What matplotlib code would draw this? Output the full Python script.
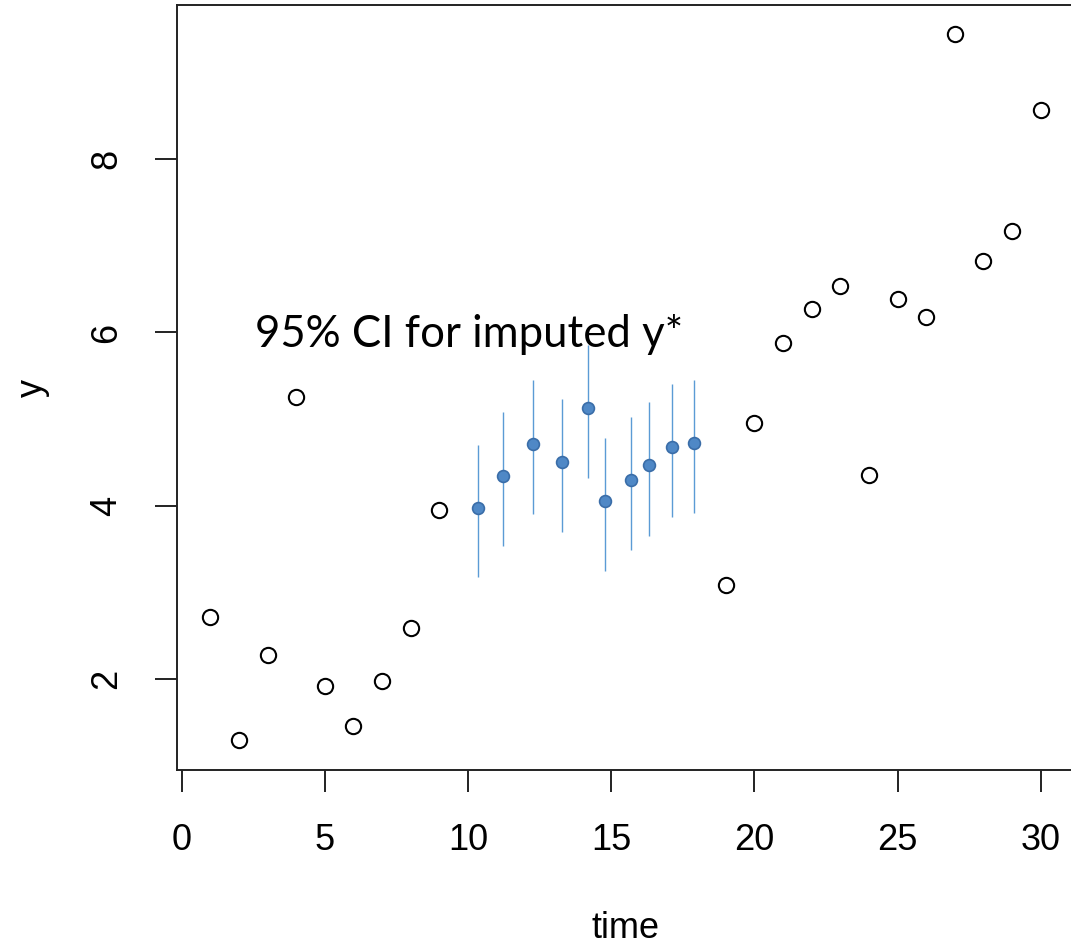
import matplotlib
matplotlib.use("Agg")
import matplotlib.pyplot as plt
import numpy as np

# observed data
obs_time = [1, 2, 3, 4, 5, 6, 7, 8, 9, 19, 20, 21, 22, 23, 24, 25, 26, 27, 28, 29, 30]
obs_y = [2.72, 1.30, 2.28, 5.26, 1.92, 1.46, 1.98, 2.59, 3.95, 3.09, 4.96, 5.88,
         6.27, 6.54, 4.36, 6.39, 6.18, 9.44, 6.82, 7.17, 8.57]

# imputed values with 95% CI
imp_time = [10.36, 11.23, 12.28, 13.29, 14.20, 14.79, 15.70, 16.32, 17.13, 17.89]
imp_y = [3.97, 4.34, 4.71, 4.51, 5.13, 4.06, 4.30, 4.47, 4.68, 4.73]
imp_lo = [3.18, 3.54, 3.91, 3.70, 4.32, 3.25, 3.49, 3.65, 3.87, 3.92]
imp_hi = [4.70, 5.08, 5.45, 5.23, 5.85, 4.78, 5.03, 5.20, 5.41, 5.45]

x_ticks = [0, 5, 10, 15, 20, 25, 30]
y_ticks = [2, 4, 6, 8]

plt.rcParams['font.family'] = ['Liberation Sans', 'DejaVu Sans']

fig = plt.figure(figsize=(10.71, 9.47), dpi=100)
ax = fig.add_axes([177/1071, 1 - 770/947, (1074 - 177)/1071, (770 - 5)/947])

ax.vlines(imp_time, imp_lo, imp_hi, color='#5B9BD5', lw=1.0, zorder=2)
ax.plot(imp_time, imp_y, 'o', ms=8.5, mfc='#4F88C6', mec='#3A6DA8', mew=1.2, zorder=3)
ax.plot(obs_time, obs_y, 'o', ms=11, mfc='white', mec='black', mew=1.5, zorder=3)

ax.set_xlim(-0.16, 31.16)
ax.set_ylim(0.95, 9.78)
ax.set_xticks(x_ticks)
ax.set_yticks(y_ticks)
ax.tick_params(axis='both', length=16, width=1.4, labelsize=26, pad=22, color='#222222')
for lab in ax.get_yticklabels():
    lab.set_rotation(90)
    lab.set_va('center')
for s in ax.spines.values():
    s.set_linewidth(1.4)
    s.set_color('#222222')

ax.set_xlabel('time', fontsize=26, labelpad=38)
ax.set_ylabel('y', fontsize=26, labelpad=28)

ax.text(2.58, 5.83, '95% CI for imputed y*', fontsize=31.5, family=['Lato', 'DejaVu Sans'],
        va='baseline', ha='left', color='black')

fig.savefig('out.png', dpi=100)
